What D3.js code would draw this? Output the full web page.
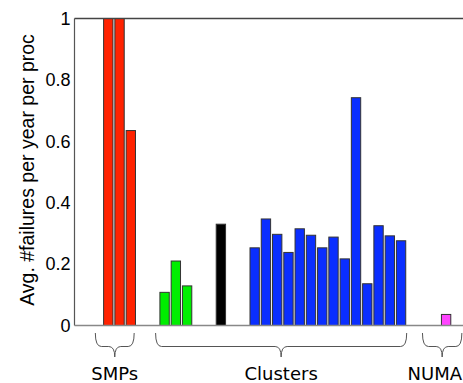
<!DOCTYPE html>
<html>
<head>
<meta charset="utf-8">
<script src="https://cdn.jsdelivr.net/npm/d3@7"></script>
<style>
  body { margin: 0; background: #fff; }
  svg { display: block; }
</style>
</head>
<body>
<div id="chart"></div>
<script>
// values; first two SMP bars run past the top and get clipped
const smpVals = [1.25, 1.25, 0.635];
const greenVals = [0.108, 0.21, 0.129];
const blackVals = [0.33];
const clusterVals = [0.253, 0.347, 0.297, 0.238, 0.315, 0.294, 0.253, 0.288, 0.217, 0.742, 0.136, 0.325, 0.292, 0.276];
const numaVals = [0.036];

// slot index where each series starts on the x axis
const seriesStart = [0, 5, 10, 13, 30];
const seriesColor = ["#ff2200", "#00ee00", "#000000", "#0a2eff", "#ff44ff"];

const yTicks = [0, 0.2, 0.4, 0.6, 0.8, 1];
const yLabel = "Avg. #failures per year per proc";

// bracket groups under the axis, spans in slot units
const groupNames = ["SMPs", "Clusters", "NUMA"];
const groupFrom = [-1.15, 4.2, 27.9];
const groupTo = [2.3, 26.5, 31.4];

const width = 463, height = 383;
const margin = {top: 18.5, right: 0, bottom: 57.5, left: 74.5};

const svg = d3.select("#chart").append("svg")
    .attr("width", width)
    .attr("height", height);

const x = d3.scaleLinear()
    .domain([-3, 31.5])
    .range([margin.left, width]);

const y = d3.scaleLinear()
    .domain([0, 1])
    .range([height - margin.bottom, margin.top]);

const slot = x(1) - x(0);
const barW = slot * 0.83;

svg.append("clipPath").attr("id", "plotclip")
  .append("rect")
    .attr("x", margin.left)
    .attr("y", y(1))
    .attr("width", width - margin.left)
    .attr("height", y(0) - y(1));

const allSeries = [smpVals, greenVals, blackVals, clusterVals, numaVals];
const bars = [];
allSeries.forEach((vals, s) => {
    vals.forEach((v, i) => {
        bars.push({ slot: seriesStart[s] + i, value: v, color: seriesColor[s] });
    });
});

svg.append("g")
    .attr("clip-path", "url(#plotclip)")
  .selectAll("rect")
  .data(bars)
  .enter().append("rect")
    .attr("x", d => x(d.slot) - barW / 2)
    .attr("y", d => y(d.value))
    .attr("width", barW)
    .attr("height", d => y(0) - y(d.value))
    .attr("fill", d => d.color)
    .attr("stroke", "#333")
    .attr("stroke-width", 1);

// axis lines: left, top, bottom (no right side visible)
svg.append("line")
    .attr("x1", margin.left).attr("x2", margin.left)
    .attr("y1", y(1)).attr("y2", y(0))
    .attr("stroke", "#555").attr("stroke-width", 1.2);
svg.append("line")
    .attr("x1", margin.left).attr("x2", width)
    .attr("y1", y(1)).attr("y2", y(1))
    .attr("stroke", "#444").attr("stroke-width", 1.5);
svg.append("line")
    .attr("x1", margin.left).attr("x2", width)
    .attr("y1", y(0)).attr("y2", y(0))
    .attr("stroke", "#888").attr("stroke-width", 1.5);

// y tick labels
const axisY = svg.append("g")
    .attr("transform", "translate(" + margin.left + ",0)")
    .call(d3.axisLeft(y).tickValues(yTicks).tickSize(0).tickPadding(4).tickFormat(d3.format("~g")));
axisY.select(".domain").remove();
axisY.selectAll("text")
    .attr("font-family", "'Liberation Sans', Arial, sans-serif")
    .attr("font-size", 18)
    .attr("fill", "#000");

svg.append("text")
    .attr("transform", "translate(33.5," + ((y(0) + y(1)) / 2 - 2) + ") rotate(-90)")
    .attr("text-anchor", "middle")
    .attr("font-family", "'Liberation Sans', Arial, sans-serif")
    .attr("font-size", 19.5)
    .attr("fill", "#000")
    .text(yLabel);

// curly brackets with group names
function bracePath(x1, x2) {
    const y0 = 333, y1 = 346.5, y2 = 357, r = 6;
    const xm = (x1 + x2) / 2;
    return "M" + x1 + "," + y0 +
        "Q" + x1 + "," + y1 + " " + (x1 + r) + "," + y1 +
        "L" + (xm - r) + "," + y1 +
        "Q" + xm + "," + y1 + " " + xm + "," + y2 +
        "Q" + xm + "," + y1 + " " + (xm + r) + "," + y1 +
        "L" + (x2 - r) + "," + y1 +
        "Q" + x2 + "," + y1 + " " + x2 + "," + y0;
}

const groups = groupNames.map((n, i) => ({ name: n, from: groupFrom[i], to: groupTo[i] }));

svg.append("g").selectAll("path")
  .data(groups)
  .enter().append("path")
    .attr("d", d => bracePath(x(d.from), x(d.to)))
    .attr("fill", "none")
    .attr("stroke", "#555")
    .attr("stroke-width", 1);

svg.append("g").selectAll("text")
  .data(groups)
  .enter().append("text")
    .attr("y", 380)
    .attr("text-anchor", "middle")
    .attr("font-family", "'DejaVu Sans', Verdana, sans-serif")
    .attr("font-size", 18)
    .attr("fill", "#000")
    .text(d => d.name)
    .attr("x", function(d) {
        const half = this.getComputedTextLength() / 2;
        return Math.min((x(d.from) + x(d.to)) / 2, width - 1 - half);
    });
</script>
</body>
</html>
